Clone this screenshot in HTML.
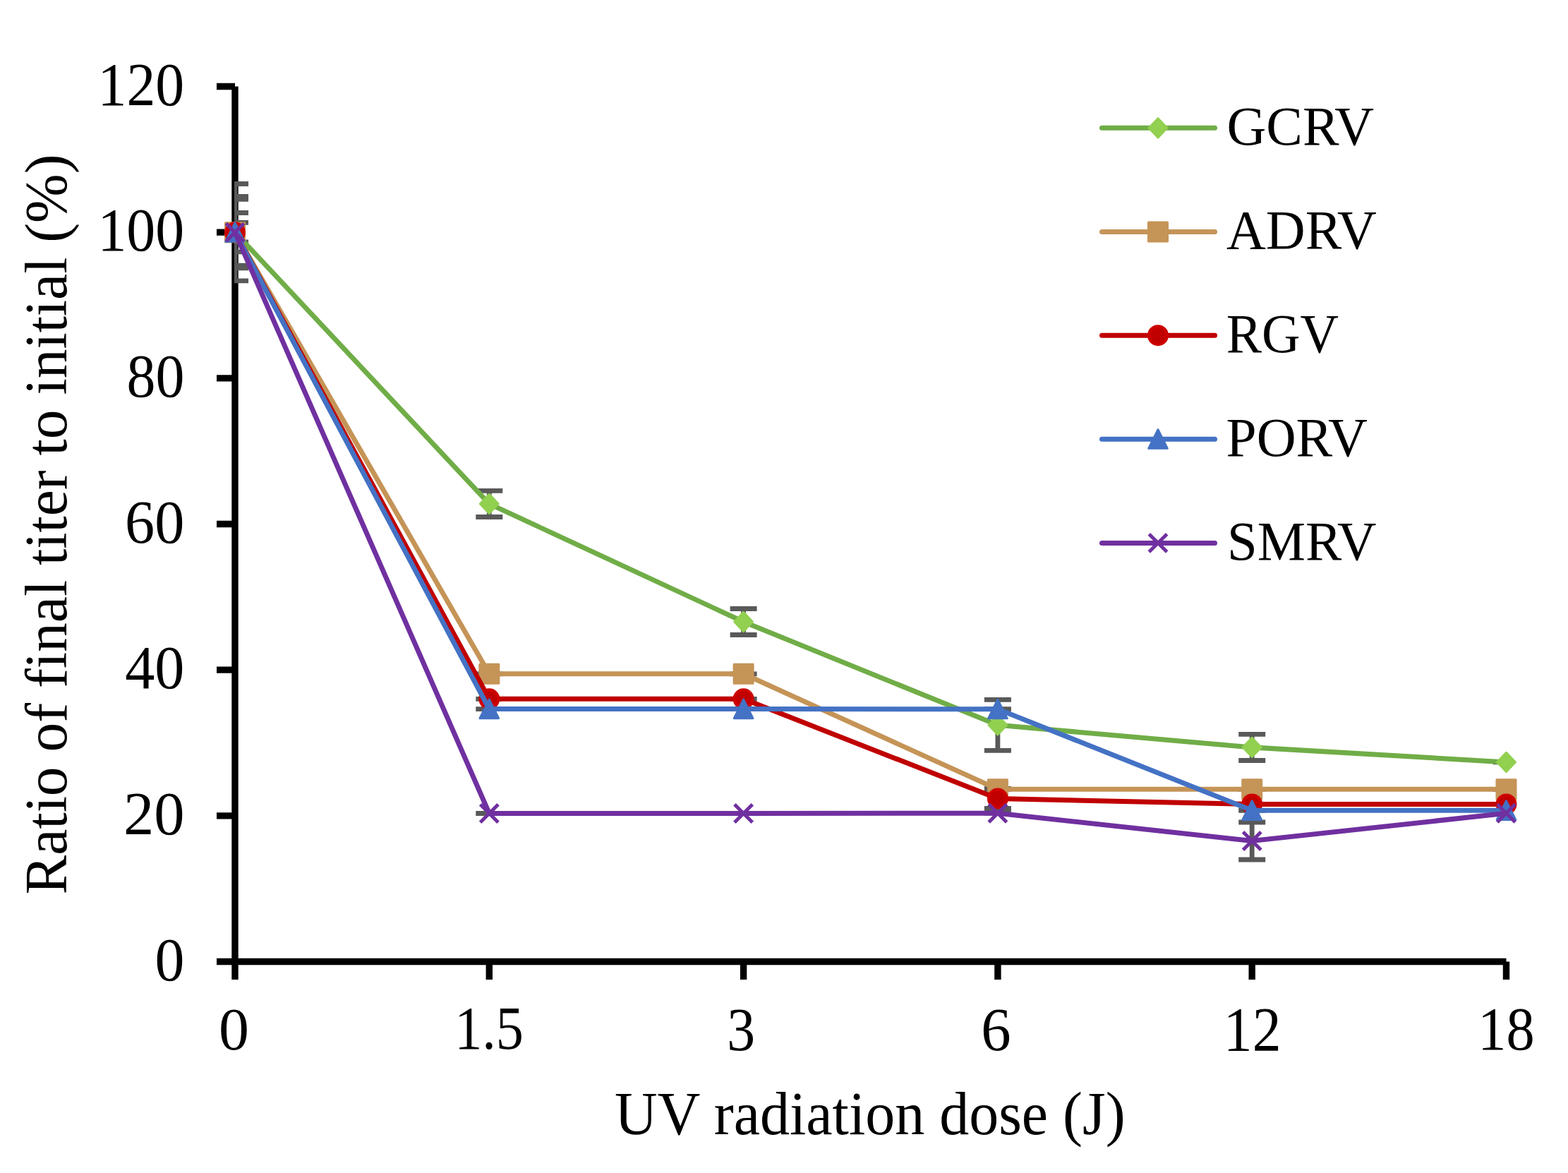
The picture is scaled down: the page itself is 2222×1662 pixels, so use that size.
<!DOCTYPE html>
<html><head><meta charset="utf-8"><title>UV radiation dose chart</title>
<style>
html,body{margin:0;padding:0;background:#fff;}
body{width:2222px;height:1662px;overflow:hidden;}
svg{display:block;}
text{font-family:"Liberation Serif","Times New Roman",serif;fill:#000;}
</style></head><body>
<svg width="2222" height="1662" viewBox="0 0 2222 1662">
<rect width="2222" height="1662" fill="#fff"/>
<defs><clipPath id="pa"><rect x="332" y="0" width="1805" height="1400"/></clipPath></defs>

<g stroke="#000" stroke-width="9.4" fill="none">
<path d="M333,122.5V1388"/>
<path d="M307,1362.5H2134.5"/>
<path d="M307,1155.83H333M307,949.17H333M307,742.50H333M307,535.83H333M307,329.17H333M307,122.50H333"/>
<path d="M693.3,1362.5V1388M1053.6,1362.5V1388M1413.9,1362.5V1388M1774.2,1362.5V1388M2134.5,1362.5V1388"/>
</g>
<path clip-path="url(#pa)" d="M333,260.5V397.9M314.0,260.5H352.0M314.0,397.9H352.0M693.3,695.3V732.5M674.3,695.3H712.3M674.3,732.5H712.3M1053.6,862.5V899.5M1034.6,862.5H1072.6M1034.6,899.5H1072.6M1413.9,991.3V1063.3M1394.9,991.3H1432.9M1394.9,1063.3H1432.9M1774.2,1040.3V1077.5M1755.2,1040.3H1793.2M1755.2,1077.5H1793.2M2115.5,1079.9H2153.5M333,278.5V379.9M314.0,278.5H352.0M314.0,379.9H352.0M674.3,954.8H712.3M1034.6,954.8H1072.6M1394.9,1118.3H1432.9M1755.2,1118.3H1793.2M2115.5,1118.3H2153.5M333,282.3V376.1M314.0,282.3H352.0M314.0,376.1H352.0M674.3,990.3H712.3M1034.6,990.3H1072.6M1413.9,1117.5V1145.5M1394.9,1117.5H1432.9M1394.9,1145.5H1432.9M1755.2,1139.4H1793.2M2115.5,1139.4H2153.5M333,301.5V356.9M314.0,301.5H352.0M314.0,356.9H352.0M674.3,1004.6H712.3M1034.6,1004.6H1072.6M1394.9,1004.7H1432.9M1755.2,1148.3H1793.2M2115.5,1148.3H2153.5M333,315.4V343.0M314.0,315.4H352.0M314.0,343.0H352.0M674.3,1152.5H712.3M1034.6,1152.5H1072.6M1394.9,1152.2H1432.9M1774.2,1165.0V1218.0M1755.2,1165.0H1793.2M1755.2,1218.0H1793.2M2115.5,1152.2H2153.5" stroke="#595959" stroke-width="6.8" fill="none"/>
<polyline points="333,329.2 693.3,713.9 1053.6,881.0 1413.9,1027.3 1774.2,1058.9 2134.5,1079.9" fill="none" stroke="#70AD47" stroke-width="7.0" stroke-linejoin="round" stroke-linecap="round"/>
<polygon points="333,315.60 345.90,329.2 333,342.80 320.10,329.2" fill="#92D050" stroke="#92D050" stroke-width="3.0" stroke-linejoin="round"/>
<polygon points="693.3,700.30 706.20,713.9 693.3,727.50 680.40,713.9" fill="#92D050" stroke="#92D050" stroke-width="3.0" stroke-linejoin="round"/>
<polygon points="1053.6,867.40 1066.50,881.0 1053.6,894.60 1040.70,881.0" fill="#92D050" stroke="#92D050" stroke-width="3.0" stroke-linejoin="round"/>
<polygon points="1413.9,1013.70 1426.80,1027.3 1413.9,1040.90 1401.00,1027.3" fill="#92D050" stroke="#92D050" stroke-width="3.0" stroke-linejoin="round"/>
<polygon points="1774.2,1045.30 1787.10,1058.9 1774.2,1072.50 1761.30,1058.9" fill="#92D050" stroke="#92D050" stroke-width="3.0" stroke-linejoin="round"/>
<polygon points="2134.5,1066.30 2147.40,1079.9 2134.5,1093.50 2121.60,1079.9" fill="#92D050" stroke="#92D050" stroke-width="3.0" stroke-linejoin="round"/>
<polyline points="333,329.2 693.3,954.8 1053.6,954.8 1413.9,1118.3 1774.2,1118.3 2134.5,1118.3" fill="none" stroke="#C59457" stroke-width="7.0" stroke-linejoin="round" stroke-linecap="round"/>
<rect x="319.50" y="315.70" width="27.00" height="27.00" fill="#C59457" stroke="#C59457" stroke-width="3.0" stroke-linejoin="round"/>
<rect x="679.80" y="941.30" width="27.00" height="27.00" fill="#C59457" stroke="#C59457" stroke-width="3.0" stroke-linejoin="round"/>
<rect x="1040.10" y="941.30" width="27.00" height="27.00" fill="#C59457" stroke="#C59457" stroke-width="3.0" stroke-linejoin="round"/>
<rect x="1400.40" y="1104.80" width="27.00" height="27.00" fill="#C59457" stroke="#C59457" stroke-width="3.0" stroke-linejoin="round"/>
<rect x="1760.70" y="1104.80" width="27.00" height="27.00" fill="#C59457" stroke="#C59457" stroke-width="3.0" stroke-linejoin="round"/>
<rect x="2121.00" y="1104.80" width="27.00" height="27.00" fill="#C59457" stroke="#C59457" stroke-width="3.0" stroke-linejoin="round"/>
<polyline points="333,329.2 693.3,990.3 1053.6,990.3 1413.9,1131.5 1774.2,1139.4 2134.5,1139.4" fill="none" stroke="#C00000" stroke-width="7.0" stroke-linejoin="round" stroke-linecap="round"/>
<circle cx="333" cy="329.2" r="12.6" fill="#C00000" stroke="#CC0000" stroke-width="4.8"/>
<circle cx="693.3" cy="990.3" r="12.6" fill="#C00000" stroke="#CC0000" stroke-width="4.8"/>
<circle cx="1053.6" cy="990.3" r="12.6" fill="#C00000" stroke="#CC0000" stroke-width="4.8"/>
<circle cx="1413.9" cy="1131.5" r="12.6" fill="#C00000" stroke="#CC0000" stroke-width="4.8"/>
<circle cx="1774.2" cy="1139.4" r="12.6" fill="#C00000" stroke="#CC0000" stroke-width="4.8"/>
<circle cx="2134.5" cy="1139.4" r="12.6" fill="#C00000" stroke="#CC0000" stroke-width="4.8"/>
<polyline points="333,329.2 693.3,1004.6 1053.6,1004.6 1413.9,1004.7 1774.2,1148.3 2134.5,1148.3" fill="none" stroke="#4472C4" stroke-width="7.0" stroke-linejoin="round" stroke-linecap="round"/>
<polygon points="333,315.70 346.30,342.30 319.70,342.30" fill="#4472C4" stroke="#4472C4" stroke-width="3.0" stroke-linejoin="round"/>
<polygon points="693.3,991.10 706.60,1017.70 680.00,1017.70" fill="#4472C4" stroke="#4472C4" stroke-width="3.0" stroke-linejoin="round"/>
<polygon points="1053.6,991.10 1066.90,1017.70 1040.30,1017.70" fill="#4472C4" stroke="#4472C4" stroke-width="3.0" stroke-linejoin="round"/>
<polygon points="1413.9,991.20 1427.20,1017.80 1400.60,1017.80" fill="#4472C4" stroke="#4472C4" stroke-width="3.0" stroke-linejoin="round"/>
<polygon points="1774.2,1134.80 1787.50,1161.40 1760.90,1161.40" fill="#4472C4" stroke="#4472C4" stroke-width="3.0" stroke-linejoin="round"/>
<polygon points="2134.5,1134.80 2147.80,1161.40 2121.20,1161.40" fill="#4472C4" stroke="#4472C4" stroke-width="3.0" stroke-linejoin="round"/>
<polyline points="333,329.2 693.3,1152.5 1053.6,1152.5 1413.9,1152.2 1774.2,1191.5 2134.5,1152.2" fill="none" stroke="#7030A0" stroke-width="7.0" stroke-linejoin="round" stroke-linecap="round"/>
<path d="M320.30,316.50L345.70,341.90M345.70,316.50L320.30,341.90" stroke="#7030A0" stroke-width="5.0" fill="none"/>
<path d="M680.60,1139.80L706.00,1165.20M706.00,1139.80L680.60,1165.20" stroke="#7030A0" stroke-width="5.0" fill="none"/>
<path d="M1040.90,1139.80L1066.30,1165.20M1066.30,1139.80L1040.90,1165.20" stroke="#7030A0" stroke-width="5.0" fill="none"/>
<path d="M1401.20,1139.50L1426.60,1164.90M1426.60,1139.50L1401.20,1164.90" stroke="#7030A0" stroke-width="5.0" fill="none"/>
<path d="M1761.50,1178.80L1786.90,1204.20M1786.90,1178.80L1761.50,1204.20" stroke="#7030A0" stroke-width="5.0" fill="none"/>
<path d="M2121.80,1139.50L2147.20,1164.90M2147.20,1139.50L2121.80,1164.90" stroke="#7030A0" stroke-width="5.0" fill="none"/>
<text transform="matrix(0.817518 0 0 0.859259 138.54 148.94)" font-size="100">120</text>
<text transform="matrix(0.817518 0 0 0.857778 138.44 354.94)" font-size="100">100</text>
<text transform="matrix(0.818478 0 0 0.862222 179.53 562.14)" font-size="100">80</text>
<text transform="matrix(0.842623 0 0 0.859259 177.11 768.94)" font-size="100">60</text>
<text transform="matrix(0.841489 0 0 0.859259 177.22 974.94)" font-size="100">40</text>
<text transform="matrix(0.865574 0 0 0.863704 174.90 1182.14)" font-size="100">20</text>
<text transform="matrix(0.838095 0 0 0.863704 219.55 1389.24)" font-size="100">0</text>
<text transform="matrix(0.859524 0 0 0.856296 309.96 1486.64)" font-size="100">0</text>
<text transform="matrix(0.782143 0 0 0.862687 644.16 1486.21)" font-size="100">1.5</text>
<text transform="matrix(0.797561 0 0 0.877612 1030.31 1487.72)" font-size="100">3</text>
<text transform="matrix(0.847059 0 0 0.877612 1390.19 1487.72)" font-size="100">6</text>
<text transform="matrix(0.817544 0 0 0.878788 1733.84 1487.50)" font-size="100">12</text>
<text transform="matrix(0.803448 0 0 0.859259 2094.27 1486.64)" font-size="100">18</text>
<text transform="matrix(0.839626 0 0 0.857778 871.12 1606.99)" font-size="100">UV radiation dose (J)</text>
<text transform="translate(94.26 1267.41) rotate(-90) scale(0.835817 0.849451)" font-size="100">Ratio of final titer to initial (%)</text>
<line x1="1561.5" y1="181.3" x2="1721.5" y2="181.3" stroke="#70AD47" stroke-width="7.0" stroke-linecap="round"/>
<polygon points="1641,167.70 1653.90,181.3 1641,194.90 1628.10,181.3" fill="#92D050" stroke="#92D050" stroke-width="3.0" stroke-linejoin="round"/>
<text transform="matrix(0.773157 0 0 0.774815 1738.51 204.84)" font-size="100">GCRV</text>
<line x1="1561.5" y1="328.4" x2="1721.5" y2="328.4" stroke="#C59457" stroke-width="7.0" stroke-linecap="round"/>
<rect x="1627.50" y="314.90" width="27.00" height="27.00" fill="#C59457" stroke="#C59457" stroke-width="3.0" stroke-linejoin="round"/>
<text transform="matrix(0.773260 0 0 0.779104 1738.03 351.73)" font-size="100">ADRV</text>
<line x1="1561.5" y1="475.2" x2="1721.5" y2="475.2" stroke="#C00000" stroke-width="7.0" stroke-linecap="round"/>
<circle cx="1641" cy="475.2" r="12.6" fill="#C00000" stroke="#CC0000" stroke-width="4.8"/>
<text transform="matrix(0.754589 0 0 0.774815 1737.64 498.94)" font-size="100">RGV</text>
<line x1="1561.5" y1="622.2" x2="1721.5" y2="622.2" stroke="#4472C4" stroke-width="7.0" stroke-linecap="round"/>
<polygon points="1641,608.70 1654.30,635.30 1627.70,635.30" fill="#4472C4" stroke="#4472C4" stroke-width="3.0" stroke-linejoin="round"/>
<text transform="matrix(0.774067 0 0 0.774815 1737.58 646.04)" font-size="100">PORV</text>
<line x1="1561.5" y1="769.4" x2="1721.5" y2="769.4" stroke="#7030A0" stroke-width="7.0" stroke-linecap="round"/>
<path d="M1628.30,756.70L1653.70,782.10M1653.70,756.70L1628.30,782.10" stroke="#7030A0" stroke-width="5.0" fill="none"/>
<text transform="matrix(0.768284 0 0 0.774815 1739.01 792.94)" font-size="100">SMRV</text>
</svg></body></html>
